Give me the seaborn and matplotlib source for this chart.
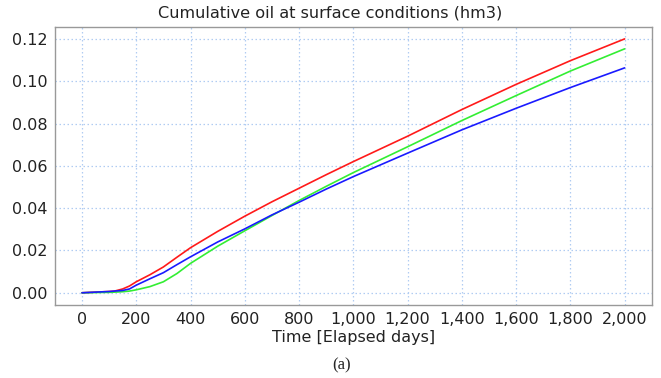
import pandas as pd
import matplotlib.pyplot as plt
import seaborn as sns
from matplotlib.ticker import FuncFormatter

# values
days = [0, 50, 100, 120, 150, 175, 200, 250, 300, 350, 400, 500, 600, 700, 800,
        900, 1000, 1200, 1400, 1600, 1800, 2000]
oil_red = [0.0000, 0.0003, 0.0006, 0.0008, 0.0018, 0.0032, 0.0052, 0.0085, 0.0122,
           0.0168, 0.0213, 0.0290, 0.0362, 0.0430, 0.0494, 0.0558, 0.0620, 0.0740,
           0.0866, 0.0985, 0.1097, 0.1200]
oil_green = [0.0000, 0.0001, 0.0002, 0.0003, 0.0005, 0.0008, 0.0014, 0.0029, 0.0052,
             0.0091, 0.0139, 0.0220, 0.0293, 0.0365, 0.0436, 0.0503, 0.0568, 0.0690,
             0.0814, 0.0932, 0.1048, 0.1153]
oil_blue = [0.0000, 0.0003, 0.0006, 0.0008, 0.0011, 0.0018, 0.0036, 0.0066, 0.0095,
            0.0133, 0.0170, 0.0240, 0.0302, 0.0368, 0.0428, 0.0490, 0.0549, 0.0660,
            0.0770, 0.0872, 0.0970, 0.1063]
x_ticks = [0, 200, 400, 600, 800, 1000, 1200, 1400, 1600, 1800, 2000]
y_ticks = [0.00, 0.02, 0.04, 0.06, 0.08, 0.10, 0.12]

df = pd.concat([
    pd.DataFrame({'day': days, 'oil': oil_red, 'case': 'red'}),
    pd.DataFrame({'day': days, 'oil': oil_green, 'case': 'green'}),
    pd.DataFrame({'day': days, 'oil': oil_blue, 'case': 'blue'}),
])

sns.set_style('white')
plt.rcParams['font.family'] = ['DejaVu Sans']

fig = plt.figure(figsize=(6.61, 3.78), dpi=100)
ax = fig.add_axes([0.083, 0.193, 0.903, 0.736])

sns.lineplot(data=df, x='day', y='oil', hue='case',
             palette={'red': '#ff1a1a', 'green': '#33ee33', 'blue': '#1a1aff'},
             linewidth=1.2, legend=False, ax=ax)

ax.set_xlim(-100, 2100)
ax.set_ylim(-0.0058, 0.1257)
ax.set_xticks(x_ticks)
ax.set_yticks(y_ticks)
ax.xaxis.set_major_formatter(FuncFormatter(lambda v, p: f'{int(v):,}'))
ax.yaxis.set_major_formatter(FuncFormatter(lambda v, p: f'{v:.2f}'))
ax.grid(True, color='#b0ccf2', linestyle=(0, (1.2, 2.0)), linewidth=0.9)
ax.tick_params(length=0, labelsize=11.5, colors='#222222', pad=5)
for s in ax.spines.values():
    s.set_color('#999999')
    s.set_linewidth(1)

ax.set_xlabel('Time [Elapsed days]', fontsize=11.5, color='#222222', labelpad=2)
ax.set_ylabel('')
fig.text(0.5, 0.965, 'Cumulative oil at surface conditions (hm3)',
         ha='center', va='center', fontsize=11.6, color='#222222')
fig.text(0.516, 0.034, '(a)', ha='center', va='center', fontsize=12,
         family='Liberation Serif')

plt.savefig('out.png', dpi=100)
plt.close()
